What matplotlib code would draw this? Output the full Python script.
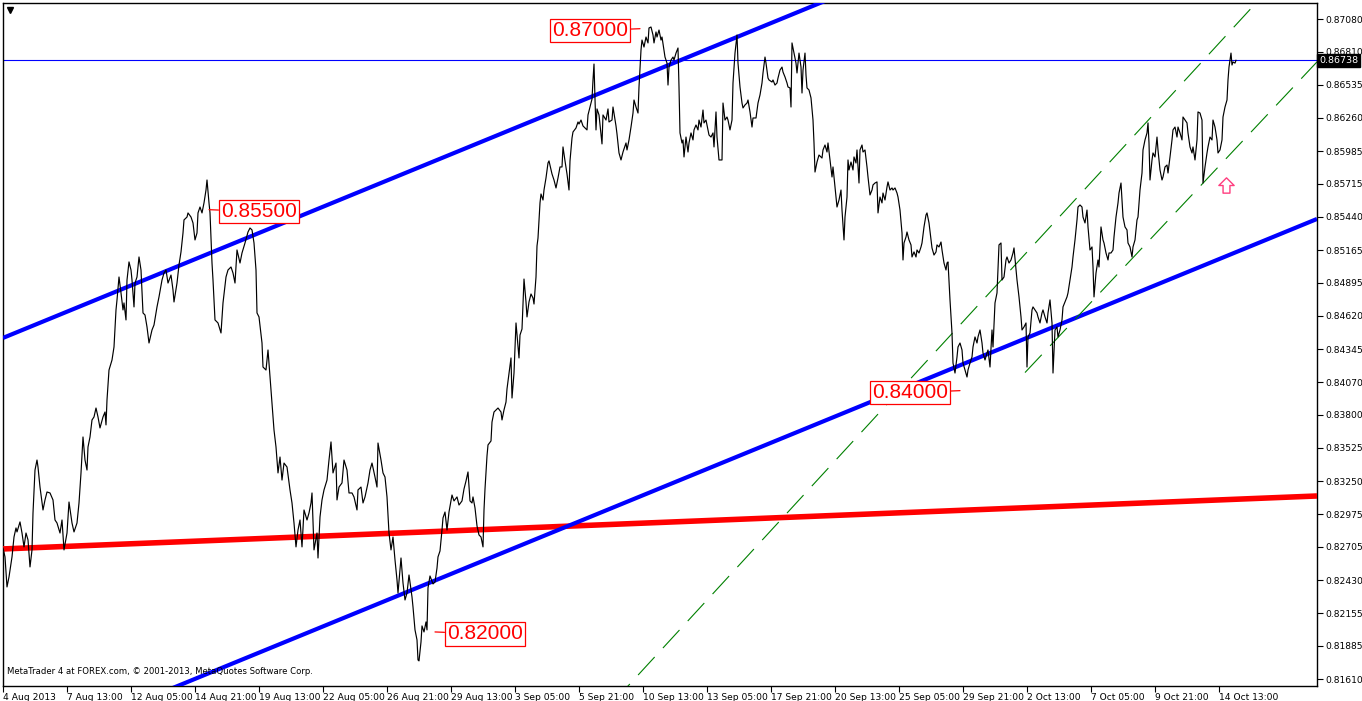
import matplotlib
matplotlib.use("Agg")
import matplotlib.pyplot as plt
from matplotlib.path import Path

# ---------------- data ----------------
# H1 close path: (bar index, price)
close_path = [
    (0, 0.82696), (2, 0.82622), (4, 0.82373), (6, 0.82456), (9, 0.82622), (11, 0.82787), (13, 0.82862),
    (14, 0.82829), (17, 0.82912), (19, 0.82820), (21, 0.82705), (23, 0.82820), (25, 0.82763), (27, 0.82539),
    (29, 0.82680), (30, 0.82986), (32, 0.83342), (34, 0.83425), (35, 0.83367), (37, 0.83201), (40, 0.83011),
    (42, 0.83094), (44, 0.83160), (47, 0.83152), (50, 0.83094), (52, 0.82928), (54, 0.82903), (57, 0.82820),
    (59, 0.82928), (61, 0.82680), (64, 0.82820), (66, 0.83077), (69, 0.82903), (71, 0.82829), (74, 0.82903),
    (76, 0.83069), (78, 0.83318), (80, 0.83616), (82, 0.83425), (84, 0.83342), (85, 0.83533), (87, 0.83616),
    (89, 0.83757), (91, 0.83782), (93, 0.83856), (95, 0.83782), (97, 0.83691), (100, 0.83782), (102, 0.83823),
    (103, 0.83716), (104, 0.83923), (106, 0.84171), (109, 0.84254), (111, 0.84362), (113, 0.84669),
    (114, 0.84752), (116, 0.84942), (118, 0.84810), (120, 0.84669), (121, 0.84727), (123, 0.84586),
    (124, 0.84917), (126, 0.85067), (128, 0.85000), (129, 0.84917), (131, 0.84694), (132, 0.84892),
    (134, 0.84942), (136, 0.85108), (138, 0.85000), (140, 0.84644), (142, 0.84627), (144, 0.84528),
    (146, 0.84395), (149, 0.84503), (151, 0.84544), (154, 0.84694), (156, 0.84777), (159, 0.84917),
    (161, 0.84975), (163, 0.85000), (165, 0.84892), (168, 0.84958), (170, 0.84834), (171, 0.84735),
    (174, 0.84892), (176, 0.85042), (178, 0.85150), (180, 0.85307), (181, 0.85415), (184, 0.85439),
    (185, 0.85473), (188, 0.85439), (190, 0.85390), (192, 0.85249), (194, 0.85307), (195, 0.85473),
    (197, 0.85522), (199, 0.85473), (201, 0.85556), (203, 0.85663), (204, 0.85746), (206, 0.85556),
    (207, 0.85473), (209, 0.85058), (210, 0.84917), (212, 0.84586), (215, 0.84561), (218, 0.84478),
    (220, 0.84727), (223, 0.84942), (225, 0.85000), (228, 0.85025), (230, 0.84975), (232, 0.84892),
    (234, 0.85166), (237, 0.85058), (239, 0.85141), (242, 0.85224), (245, 0.85315), (247, 0.85348),
    (249, 0.85332), (251, 0.85224), (253, 0.85000), (254, 0.84644), (256, 0.84611), (259, 0.84395),
    (260, 0.84196), (263, 0.84171), (265, 0.84337), (267, 0.84113), (269, 0.83898), (271, 0.83674),
    (273, 0.83533), (275, 0.83318), (277, 0.83450), (279, 0.83259), (281, 0.83400), (284, 0.83367),
    (287, 0.83177), (289, 0.83069), (291, 0.82903), (293, 0.82705), (295, 0.82845), (297, 0.82928),
    (299, 0.82705), (301, 0.83011), (304, 0.82928), (306, 0.82986), (308, 0.83069), (309, 0.83152),
    (311, 0.82680), (314, 0.82820), (315, 0.82613), (317, 0.82953), (319, 0.83094), (321, 0.83177),
    (324, 0.83259), (326, 0.83425), (328, 0.83575), (330, 0.83318), (333, 0.83400), (334, 0.83094),
    (336, 0.83201), (339, 0.83235), (341, 0.83425), (344, 0.83342), (346, 0.83152), (349, 0.83152),
    (351, 0.83119), (354, 0.83011), (355, 0.83177), (358, 0.83201), (360, 0.83069), (362, 0.83119),
    (365, 0.83235), (367, 0.83342), (369, 0.83400), (372, 0.83284), (374, 0.83201), (375, 0.83566),
    (378, 0.83425), (380, 0.83318), (382, 0.83284), (384, 0.83119), (386, 0.82820), (388, 0.82680),
    (390, 0.82787), (392, 0.82597), (394, 0.82431), (395, 0.82323), (398, 0.82613), (400, 0.82406),
    (402, 0.82265), (404, 0.82323), (406, 0.82472), (409, 0.82290), (410, 0.82207), (412, 0.82017),
    (414, 0.81934), (415, 0.81768), (416, 0.81760), (418, 0.81917), (419, 0.82050), (421, 0.82000),
    (423, 0.82083), (424, 0.82017), (425, 0.82365), (427, 0.82464), (430, 0.82398), (432, 0.82414),
    (434, 0.82530), (435, 0.82622), (437, 0.82671), (439, 0.82845), (440, 0.82945), (442, 0.82994),
    (444, 0.82845), (446, 0.82994), (449, 0.83135), (451, 0.83086), (454, 0.83119), (456, 0.83052),
    (459, 0.83086), (461, 0.83185), (463, 0.83251), (465, 0.83326), (467, 0.83086), (469, 0.83069),
    (470, 0.83119), (472, 0.83028), (474, 0.82879), (476, 0.82804), (478, 0.82787), (480, 0.82705),
    (481, 0.83011), (482, 0.83185), (484, 0.83459), (485, 0.83550), (488, 0.83583), (489, 0.83740),
    (491, 0.83823), (493, 0.83840), (495, 0.83856), (498, 0.83823), (499, 0.83757), (501, 0.83840),
    (503, 0.83906), (504, 0.84014), (506, 0.84146), (508, 0.84271), (509, 0.83939), (511, 0.84146),
    (513, 0.84561), (514, 0.84461), (516, 0.84271), (517, 0.84461), (519, 0.84511), (521, 0.84925),
    (523, 0.84735), (524, 0.84611), (526, 0.84735), (528, 0.84801), (530, 0.84768), (531, 0.84718),
    (533, 0.84942), (534, 0.85199), (535, 0.85265), (537, 0.85556), (538, 0.85630), (540, 0.85580),
    (541, 0.85663), (543, 0.85763), (545, 0.85887), (546, 0.85904), (549, 0.85796), (551, 0.85746),
    (553, 0.85680), (555, 0.85763), (557, 0.85854), (559, 0.85854), (560, 0.86020), (562, 0.85904),
    (564, 0.85796), (566, 0.85663), (567, 0.85904), (569, 0.86094), (570, 0.86144), (573, 0.86177),
    (575, 0.86227), (576, 0.86210), (578, 0.86243), (580, 0.86194), (582, 0.86177), (584, 0.86161),
    (585, 0.86285), (587, 0.86351), (589, 0.86417), (590, 0.86575), (591, 0.86707), (592, 0.86417),
    (593, 0.86161), (594, 0.86335), (596, 0.86285), (599, 0.86045), (600, 0.86285), (603, 0.86243),
    (605, 0.86335), (606, 0.86227), (609, 0.86243), (610, 0.86351), (613, 0.86194), (614, 0.86127),
    (616, 0.85970), (618, 0.85912), (620, 0.85978), (623, 0.86053), (624, 0.85995), (626, 0.86078),
    (628, 0.86185), (630, 0.86301), (631, 0.86409), (633, 0.86351), (635, 0.86301), (636, 0.86517),
    (638, 0.86823), (639, 0.86906), (641, 0.86848), (643, 0.86931), (645, 0.86882), (646, 0.87006),
    (648, 0.87014), (650, 0.86948), (651, 0.86882), (653, 0.86973), (654, 0.86931), (656, 0.86989),
    (658, 0.86906), (659, 0.86931), (661, 0.86823), (662, 0.86765), (664, 0.86715), (665, 0.86533),
    (666, 0.86682), (668, 0.86740), (670, 0.86765), (671, 0.86740), (673, 0.86798), (675, 0.86840),
    (676, 0.86517), (677, 0.86136), (679, 0.86053), (680, 0.86078), (681, 0.85937), (683, 0.86102),
    (685, 0.85978), (686, 0.86053), (688, 0.86136), (690, 0.86078), (691, 0.86161), (693, 0.86202),
    (695, 0.86161), (696, 0.86243), (698, 0.86185), (700, 0.86326), (701, 0.86219), (703, 0.86243),
    (705, 0.86161), (706, 0.86119), (708, 0.86102), (710, 0.86136), (711, 0.86020), (713, 0.86310),
    (714, 0.86102), (716, 0.85912), (718, 0.85912), (719, 0.85912), (720, 0.86384), (722, 0.86243),
    (724, 0.86268), (725, 0.86243), (727, 0.86161), (729, 0.86243), (730, 0.86550), (732, 0.86798),
    (734, 0.86948), (735, 0.86715), (737, 0.86517), (739, 0.86384), (740, 0.86343), (742, 0.86368),
    (744, 0.86384), (745, 0.86409), (747, 0.86310), (749, 0.86185), (750, 0.86260), (753, 0.86260),
    (755, 0.86384), (757, 0.86451), (759, 0.86550), (760, 0.86633), (762, 0.86765), (763, 0.86715),
    (765, 0.86591), (766, 0.86575), (769, 0.86558), (770, 0.86575), (772, 0.86533), (774, 0.86550),
    (775, 0.86591), (777, 0.86657), (779, 0.86682), (780, 0.86641), (782, 0.86600), (784, 0.86550),
    (785, 0.86517), (787, 0.86509), (788, 0.86351), (789, 0.86882), (791, 0.86798), (793, 0.86715),
    (794, 0.86633), (796, 0.86798), (798, 0.86682), (799, 0.86467), (800, 0.86657), (802, 0.86798),
    (803, 0.86616), (804, 0.86509), (806, 0.86492), (808, 0.86426), (810, 0.86243), (811, 0.86053),
    (812, 0.85812), (814, 0.85895), (816, 0.85953), (819, 0.85928), (820, 0.85995), (822, 0.86036),
    (824, 0.85978), (825, 0.86053), (827, 0.85912), (829, 0.85771), (830, 0.85854), (832, 0.85688),
    (834, 0.85522), (836, 0.85580), (838, 0.85663), (839, 0.85497), (841, 0.85249), (842, 0.85439),
    (844, 0.85605), (845, 0.85912), (846, 0.85829), (848, 0.85895), (850, 0.85829), (851, 0.85937),
    (853, 0.85887), (854, 0.85995), (856, 0.85721), (857, 0.85995), (859, 0.86036), (860, 0.85978),
    (862, 0.85995), (864, 0.85854), (865, 0.85771), (867, 0.85622), (869, 0.85663), (870, 0.85705),
    (872, 0.85721), (874, 0.85730), (875, 0.85473), (877, 0.85605), (879, 0.85556), (880, 0.85638),
    (882, 0.85580), (884, 0.85688), (885, 0.85730), (887, 0.85663), (889, 0.85680), (890, 0.85663),
    (892, 0.85680), (894, 0.85638), (895, 0.85605), (897, 0.85497), (899, 0.85307), (900, 0.85083),
    (901, 0.85224), (903, 0.85274), (904, 0.85315), (906, 0.85249), (908, 0.85208), (909, 0.85108),
    (911, 0.85150), (913, 0.85108), (914, 0.85166), (916, 0.85141), (918, 0.85191), (919, 0.85224),
    (921, 0.85357), (923, 0.85456), (924, 0.85473), (926, 0.85390), (928, 0.85249), (929, 0.85183),
    (931, 0.85124), (933, 0.85150), (934, 0.85208), (936, 0.85191), (938, 0.85232), (939, 0.85166),
    (941, 0.85058), (943, 0.85000), (944, 0.85058), (945, 0.85067), (947, 0.84752), (949, 0.84478),
    (950, 0.84229), (952, 0.84146), (954, 0.84279), (955, 0.84362), (957, 0.84395), (959, 0.84337),
    (960, 0.84229), (962, 0.84171), (964, 0.84113), (965, 0.84171), (967, 0.84229), (969, 0.84279),
    (970, 0.84362), (972, 0.84445), (974, 0.84395), (975, 0.84445), (977, 0.84503), (979, 0.84395),
    (980, 0.84312), (982, 0.84254), (984, 0.84312), (985, 0.84337), (987, 0.84196), (989, 0.84503),
    (990, 0.84362), (992, 0.84727), (994, 0.84810), (995, 0.85000), (996, 0.85208), (998, 0.85224),
    (999, 0.84917), (1001, 0.84942), (1003, 0.85083), (1004, 0.85108), (1006, 0.85058), (1008, 0.85083),
    (1010, 0.85141), (1011, 0.85183), (1013, 0.85000), (1014, 0.84917), (1016, 0.84777), (1018, 0.84611),
    (1019, 0.84503), (1021, 0.84528), (1023, 0.84561), (1024, 0.84196), (1025, 0.84445), (1027, 0.84478),
    (1029, 0.84669), (1030, 0.84694), (1032, 0.84669), (1034, 0.84644), (1035, 0.84611), (1037, 0.84561),
    (1039, 0.84644), (1040, 0.84669), (1042, 0.84611), (1044, 0.84561), (1045, 0.84644), (1047, 0.84752),
    (1049, 0.84561), (1050, 0.84146), (1052, 0.84503), (1054, 0.84528), (1055, 0.84445), (1057, 0.84503),
    (1059, 0.84586), (1060, 0.84694), (1062, 0.84735), (1064, 0.84777), (1065, 0.84810), (1067, 0.84917),
    (1069, 0.85025), (1070, 0.85108), (1072, 0.85249), (1074, 0.85415), (1075, 0.85522), (1077, 0.85539),
    (1079, 0.85522), (1080, 0.85439), (1082, 0.85390), (1084, 0.85497), (1085, 0.85357), (1087, 0.85166),
    (1089, 0.85191), (1090, 0.85025), (1091, 0.84777), (1093, 0.84975), (1095, 0.85083), (1096, 0.85025),
    (1098, 0.85357), (1100, 0.85249), (1101, 0.85224), (1103, 0.85141), (1105, 0.85083), (1106, 0.85141),
    (1108, 0.85141), (1110, 0.85166), (1111, 0.85274), (1113, 0.85439), (1115, 0.85556), (1116, 0.85638),
    (1118, 0.85721), (1119, 0.85580), (1120, 0.85439), (1122, 0.85357), (1124, 0.85332), (1125, 0.85224),
    (1127, 0.85191), (1129, 0.85108), (1130, 0.85191), (1132, 0.85249), (1134, 0.85415), (1135, 0.85439),
    (1137, 0.85663), (1139, 0.85804), (1140, 0.85995), (1142, 0.86078), (1144, 0.86136), (1145, 0.86219),
    (1146, 0.86053), (1147, 0.85746), (1149, 0.85912), (1150, 0.85970), (1152, 0.85937), (1154, 0.86102),
    (1155, 0.85995), (1157, 0.85829), (1159, 0.85746), (1160, 0.85771), (1162, 0.85854), (1164, 0.85870),
    (1165, 0.85804), (1167, 0.85937), (1169, 0.86078), (1170, 0.86161), (1172, 0.86185), (1174, 0.86102),
    (1175, 0.86185), (1177, 0.86136), (1179, 0.86078), (1180, 0.86268), (1182, 0.86243), (1184, 0.86219),
    (1185, 0.86136), (1187, 0.86020), (1189, 0.85970), (1190, 0.86020), (1192, 0.85912), (1194, 0.86078),
    (1195, 0.86310), (1197, 0.86301), (1199, 0.86243), (1200, 0.85721), (1202, 0.85854), (1204, 0.85970),
    (1205, 0.86020), (1207, 0.86102), (1209, 0.86078), (1210, 0.86243), (1212, 0.86185), (1214, 0.86078),
    (1215, 0.85970), (1217, 0.85995), (1219, 0.86078), (1220, 0.86268), (1222, 0.86351), (1224, 0.86409),
    (1225, 0.86575), (1226, 0.86682), (1228, 0.86798), (1229, 0.86699), (1230, 0.86724), (1232, 0.86715),
    (1233, 0.86738),
]

ytick_labels = ["0.87080", "0.86810", "0.86535", "0.86260", "0.85985", "0.85715", "0.85440",
                "0.85165", "0.84895", "0.84620", "0.84345", "0.84070", "0.83800", "0.83525",
                "0.83250", "0.82975", "0.82705", "0.82430", "0.82155", "0.81885", "0.81610"]

xtick_labels = ["4 Aug 2013", "7 Aug 13:00", "12 Aug 05:00", "14 Aug 21:00", "19 Aug 13:00",
                "22 Aug 05:00", "26 Aug 21:00", "29 Aug 13:00", "3 Sep 05:00", "5 Sep 21:00",
                "10 Sep 13:00", "13 Sep 05:00", "17 Sep 21:00", "20 Sep 13:00", "25 Sep 05:00",
                "29 Sep 21:00", "2 Oct 13:00", "7 Oct 05:00", "9 Oct 21:00", "14 Oct 13:00"]
xtick_bars = [0, 64, 128, 192, 256, 320, 384, 448, 512, 576,
              640, 704, 768, 832, 896, 960, 1024, 1088, 1152, 1216]

# trend lines: (bar1, price1, bar2, price2, start bar)
blue_upper = (0, 0.84437, 817, 0.87213, 0)
blue_lower = (182, 0.81577, 1314, 0.85423, 150)
red_line = (0, 0.82688, 1314, 0.83127, 0)
green_upper = (625, 0.81552, 1253, 0.87213, 600)
green_lower = (1022, 0.84150, 1314, 0.86725, 1022)

# price labels: (anchor bar, price, side of box)
price_labels = [(637, 0.87000, "left"), (206, 0.85500, "right"),
                (957, 0.84000, "left"), (432, 0.82000, "right")]

current_price = 0.86738
signal_arrow = (1223, 0.85705)

# ---------------- figure ----------------
W, H = 1362, 701
fig = plt.figure(figsize=(W / 100, H / 100), dpi=100)
fig.patch.set_facecolor("white")
ax = fig.add_axes([3 / W, 15 / H, 1314 / W, 683 / H])
ax.set_facecolor("white")

XMIN, XMAX = 0, 1314
YMIN, YMAX = 0.81552, 0.87213
ax.set_xlim(XMIN, XMAX)
ax.set_ylim(YMIN, YMAX)

bars = [b for b, _ in close_path]
closes = [p for _, p in close_path]


def ray(spec, x_end=XMAX):
    b1, p1, b2, p2, x0 = spec
    k = (p2 - p1) / (b2 - b1)
    return [x0, x_end], [p1 + k * (x0 - b1), p1 + k * (x_end - b1)]


# horizontal current price line
ax.axhline(current_price, color="#0000ff", lw=0.8, zorder=2)

# red long-term line
xs, ys = ray(red_line)
ax.plot(xs, ys, color="#ff0000", lw=4.0, solid_capstyle="butt", zorder=3)

# blue channel
for spec in (blue_upper, blue_lower):
    xs, ys = ray(spec)
    ax.plot(xs, ys, color="#0000ff", lw=3.0, solid_capstyle="butt", zorder=3)

# green dashed channel
for spec in (green_upper, green_lower):
    xs, ys = ray(spec)
    ax.plot(xs, ys, color="#008000", lw=0.8, dashes=(22, 11), zorder=3)

# price path
ax.plot(bars, closes, color="black", lw=0.85, zorder=4)

# price labels
for b, p, side in price_labels:
    off = -12 if side == "left" else 12
    ax.annotate(f"{p:.5f}", xy=(b, p), xytext=(off, -2), textcoords="offset pixels",
                ha="right" if side == "left" else "left", va="center",
                fontsize=15, color="#ff0000", family="Liberation Sans",
                bbox=dict(boxstyle="square,pad=0.1", fc="white", ec="#ff0000", lw=0.9),
                arrowprops=dict(arrowstyle="-", color="#ff0000", lw=0.9,
                                shrinkA=0, shrinkB=0),
                zorder=6)

# signal arrow (hollow up arrow)
arrow_path = Path([(0, 1), (1, 0), (0.45, 0), (0.45, -1), (-0.45, -1), (-0.45, 0), (-1, 0), (0, 1)],
                  closed=True)
ax.plot([signal_arrow[0]], [signal_arrow[1]], marker=arrow_path, ms=11,
        mfc="white", mec="#ff3d7f", mew=1.0, ls="none", zorder=6)

# axes styling
for s in ax.spines.values():
    s.set_color("black")
    s.set_linewidth(1.0)

ax.yaxis.tick_right()
ax.set_yticks([float(t) for t in ytick_labels])
ax.set_yticklabels(ytick_labels)
ax.tick_params(axis="y", direction="out", length=4, width=0.8, pad=2,
               labelsize=6.6, colors="black")
ax.set_xticks(xtick_bars)
ax.set_xticklabels(xtick_labels, ha="left")
ax.tick_params(axis="x", direction="out", length=4, width=0.8, pad=1,
               labelsize=6.6, colors="black")

# current price box on the right axis
ax.text(1.0015, current_price, f"{current_price:.5f}",
        transform=ax.get_yaxis_transform(), ha="left", va="center",
        fontsize=6.8, color="white",
        bbox=dict(boxstyle="square,pad=0.22", fc="black", ec="black"),
        clip_on=False, zorder=10)

# copyright and the small menu triangle
ax.text(4 / 1314, 10 / 683, "MetaTrader 4 at FOREX.com, \u00a9 2001-2013, MetaQuotes Software Corp.",
        transform=ax.transAxes, fontsize=6.1, color="black", ha="left", va="bottom", zorder=7)
ax.plot([7 / 1314], [676 / 683], marker="v", ms=5, color="black",
        transform=ax.transAxes, clip_on=False, zorder=7)

fig.savefig("out.png", dpi=100, facecolor="white")
